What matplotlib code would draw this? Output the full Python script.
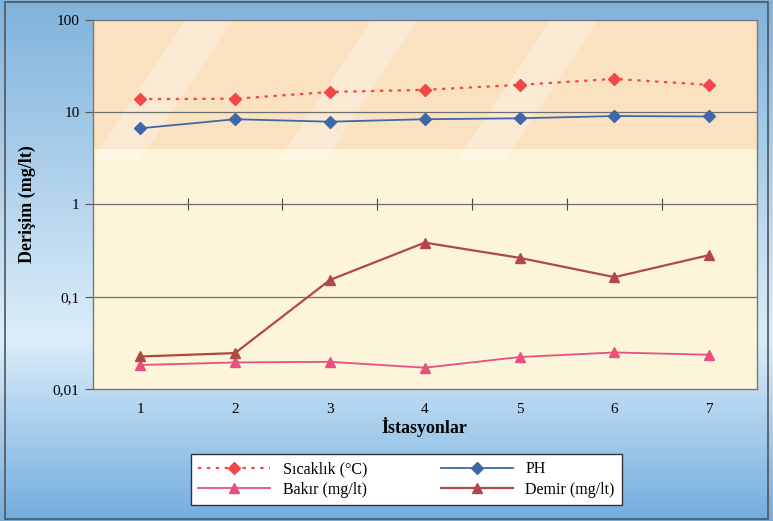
import numpy as np
import matplotlib
matplotlib.use("Agg")
import matplotlib.pyplot as plt
from matplotlib.patches import Rectangle, Polygon

stations = [1, 2, 3, 4, 5, 6, 7]
sicaklik = [13.9, 14.0, 16.6, 17.5, 19.8, 23.0, 19.8]
ph = [6.7, 8.4, 7.9, 8.4, 8.6, 9.1, 9.0]
bakir = [0.0182, 0.0194, 0.0197, 0.0170, 0.0222, 0.0249, 0.0235]
demir = [0.0225, 0.0245, 0.152, 0.386, 0.264, 0.163, 0.283]
y_ticks = [0.01, 0.1, 1, 10, 100]
y_tick_labels = ["0,01", "0,1", "1", "10", "100"]

plt.rcParams['font.family'] = ['Liberation Serif', 'DejaVu Serif']

fig = plt.figure(figsize=(7.73, 5.21), dpi=100)

# background gradient
bg = fig.add_axes([0, 0, 1, 1], zorder=-10)
h = 200
t = np.linspace(0, 1, h)[:, None]
top = np.array([0.50, 0.70, 0.86])
mid = np.array([0.86, 0.93, 0.98])
bot = np.array([0.45, 0.68, 0.87])
col = np.where(t < 0.65, top + (mid - top) * (t / 0.65), mid + (bot - mid) * ((t - 0.65) / 0.35))
img = np.repeat(col[:, None, :], 10, axis=1).reshape(h, 10, 3)
bg.imshow(img, aspect='auto', extent=[0, 1, 0, 1], origin='upper')
bg.add_patch(Rectangle((0.006, 0.004), 0.988, 0.992, fill=False, edgecolor='#555555', lw=1.2))
bg.set_xlim(0, 1); bg.set_ylim(0, 1)
bg.axis('off')

ax = fig.add_axes([0.120, 0.2534, 0.859, 0.7082])
ax.set_facecolor('#fdf5d9')
ax.set_yscale('log')
ax.set_ylim(0.01, 100)
ax.set_xlim(0.5, 7.5)

# watermark-like peach band at the top
ax.axhspan(4, 100, color='#f6b98a', alpha=0.30, lw=0, zorder=0)
for x0 in [0.0, 0.28, 0.55]:
    ax.add_patch(Polygon([[x0, 0.62], [x0 + 0.07, 0.62], [x0 + 0.21, 1.0], [x0 + 0.14, 1.0]],
                         closed=True, transform=ax.transAxes, color='white', alpha=0.30, lw=0, zorder=0))

for v in [0.1, 1, 10]:
    ax.axhline(v, color='#6e6e6e', lw=0.9, zorder=1)

ax.plot(stations, sicaklik, color='#f04848', ls=(0, (1.5, 2.5)), lw=1.6, marker='D', ms=6,
        label='Sıcaklık (°C)', zorder=3)
ax.plot(stations, bakir, color='#e8507e', lw=1.3, marker='^', ms=7, label='Bakır (mg/lt)', zorder=3)
ax.plot(stations, ph, color='#3e68a8', lw=1.3, marker='D', ms=6, label='PH', zorder=3)
ax.plot(stations, demir, color='#b04848', lw=1.6, marker='^', ms=7, label='Demir (mg/lt)', zorder=3)

ax.set_yticks(y_ticks)
ax.set_yticklabels(y_tick_labels)
ax.yaxis.set_minor_locator(matplotlib.ticker.NullLocator())
ax.set_xticks(stations)
ax.tick_params(axis='x', length=0, pad=10, labelsize=11)
ax.tick_params(axis='y', length=6, direction='out', labelsize=11, color='#555555')
for s in ax.spines.values():
    s.set_color('#777777')
    s.set_linewidth(1.0)

sec = ax.secondary_xaxis(0.5)
sec.set_xticks([1.5, 2.5, 3.5, 4.5, 5.5, 6.5])
sec.tick_params(axis='x', direction='inout', length=8, labelbottom=False, labeltop=False, color='#444444')
sec.set_xticklabels([])
sec.spines['bottom'].set_visible(False)
sec.spines['top'].set_visible(False)

ax.set_xlabel('İstasyonlar', fontsize=13, fontweight='bold', labelpad=1)
ax.set_ylabel('Derişim (mg/lt)', fontsize=13, fontweight='bold', labelpad=12)

leg = fig.legend(loc='lower left', bbox_to_anchor=(0.237, 0.031, 0.578, 0.096), mode='expand',
                 ncol=2, frameon=True, fancybox=False, edgecolor='#333333', facecolor='white',
                 framealpha=1, fontsize=11.5, handlelength=4.5, borderpad=0.45, labelspacing=0.3,
                 columnspacing=2.0)
leg.get_frame().set_linewidth(1.0)
leg.set_bbox_to_anchor((0.237, 0.015, 0.578, 0.096), transform=fig.transFigure)

fig.savefig('out.png', dpi=100)
